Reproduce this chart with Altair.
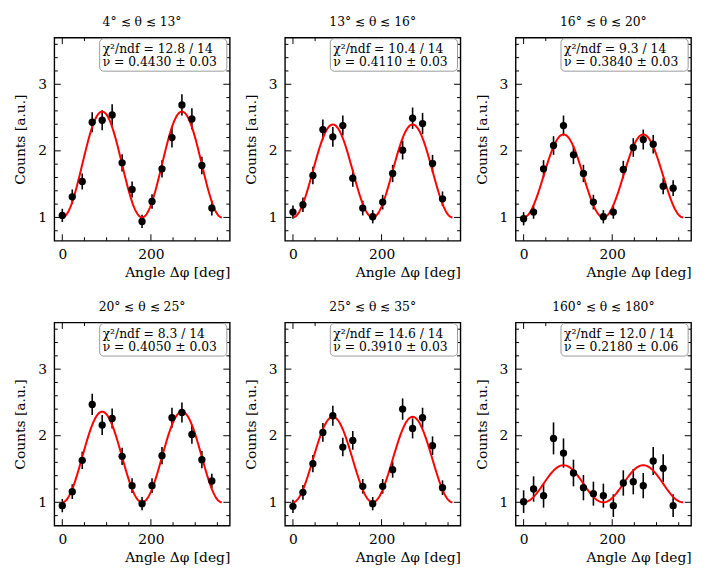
import altair as alt
import pandas as pd

phi = [0, 22.5, 45, 67.5, 90, 112.5, 135, 157.5, 180, 202.5, 225, 247.5, 270, 292.5, 315, 337.5]

titles = ["4° ≲ θ ≲ 13°", "13° ≲ θ ≲ 16°", "16° ≲ θ ≲ 20°",
          "20° ≲ θ ≲ 25°", "25° ≲ θ ≲ 35°", "160° ≲ θ ≲ 180°"]
chi2 = ["12.8", "10.4", "9.3", "8.3", "14.6", "12.0"]
ndf = ["14", "14", "14", "14", "14", "14"]
nu = [0.4430, 0.4110, 0.3840, 0.4050, 0.3910, 0.2180]
nu_err = ["0.03", "0.03", "0.03", "0.03", "0.03", "0.06"]

counts = [
    [1.03, 1.31, 1.54, 2.43, 2.46, 2.54, 1.82, 1.42, 0.94, 1.24, 1.73, 2.20, 2.69, 2.48, 1.78, 1.14],
    [1.08, 1.19, 1.63, 2.32, 2.21, 2.38, 1.59, 1.14, 1.01, 1.23, 1.66, 2.01, 2.49, 2.41, 1.81, 1.28],
    [0.98, 1.08, 1.73, 2.08, 2.38, 1.94, 1.66, 1.23, 1.01, 1.08, 1.72, 2.05, 2.17, 2.10, 1.47, 1.44],
    [0.95, 1.16, 1.63, 2.47, 2.16, 2.26, 1.69, 1.25, 0.98, 1.25, 1.70, 2.27, 2.35, 2.02, 1.64, 1.32],
    [0.94, 1.15, 1.58, 2.05, 2.30, 1.83, 1.93, 1.24, 0.98, 1.24, 1.49, 2.40, 2.11, 2.27, 1.85, 1.22],
    [1.01, 1.20, 1.10, 1.96, 1.74, 1.44, 1.22, 1.13, 1.10, 0.95, 1.29, 1.31, 1.25, 1.62, 1.51, 0.95],
]
errors = [
    [0.10, 0.11, 0.12, 0.15, 0.15, 0.16, 0.13, 0.12, 0.10, 0.11, 0.13, 0.15, 0.16, 0.16, 0.13, 0.11],
    [0.10, 0.11, 0.13, 0.15, 0.15, 0.15, 0.13, 0.11, 0.10, 0.11, 0.13, 0.14, 0.16, 0.16, 0.13, 0.11],
    [0.10, 0.10, 0.13, 0.14, 0.15, 0.14, 0.13, 0.11, 0.10, 0.10, 0.13, 0.14, 0.15, 0.14, 0.12, 0.12],
    [0.10, 0.11, 0.13, 0.16, 0.15, 0.15, 0.13, 0.11, 0.10, 0.11, 0.13, 0.15, 0.15, 0.14, 0.13, 0.11],
    [0.10, 0.11, 0.13, 0.14, 0.15, 0.14, 0.14, 0.11, 0.10, 0.11, 0.12, 0.16, 0.15, 0.15, 0.14, 0.11],
    [0.17, 0.19, 0.18, 0.24, 0.22, 0.20, 0.19, 0.18, 0.18, 0.17, 0.19, 0.19, 0.19, 0.21, 0.21, 0.17],
]

x_major = [0, 200]
x_minor = [50, 100, 150, 250, 300, 350]
y_major = [1, 2, 3]
y_minor = [0.8, 1.2, 1.4, 1.6, 1.8, 2.2, 2.4, 2.6, 2.8, 3.2, 3.4, 3.6]

W, H = 178, 206
FONT = "DejaVu Serif"
XDOM = [-18, 378]
YDOM = [0.65, 3.7]

xs = alt.Scale(domain=XDOM, nice=False, zero=False)
ys = alt.Scale(domain=YDOM, nice=False, zero=False)


def panel(i):
    df = pd.DataFrame({"phi": phi, "c": counts[i], "e": errors[i]})
    df["lo"] = df["c"] - df["e"]
    df["hi"] = df["c"] + df["e"]

    xaxis = alt.Axis(values=x_major, format="d", ticks=False, domain=False, grid=False,
                     labelPadding=7, labelFontSize=14, labelFont=FONT, labelColor="black",
                     title="Angle Δφ [deg]", titleAnchor="end", titleFont=FONT,
                     titleFontSize=14, titleFontWeight="normal", titlePadding=4, titleColor="black")
    yaxis = alt.Axis(values=y_major, format="d", ticks=False, domain=False, grid=False,
                     labelPadding=8, labelFontSize=14, labelFont=FONT, labelColor="black",
                     title="Counts [a.u.]", titleFont=FONT, titleFontSize=14,
                     titleFontWeight="normal", titlePadding=10, titleColor="black")

    base = alt.Chart(df)
    err = base.mark_rule(color="black", strokeWidth=1.6).encode(
        x=alt.X("phi:Q", scale=xs, axis=xaxis),
        y=alt.Y("lo:Q", scale=ys, axis=yaxis),
        y2="hi:Q",
    )
    pts = base.mark_circle(color="black", opacity=1, size=55).encode(
        x=alt.X("phi:Q", scale=xs), y=alt.Y("c:Q", scale=ys)
    )
    fit = alt.Chart(alt.sequence(0, 361, 2, as_="t")).transform_calculate(
        f=f"(1 - {nu[i]} * cos(2 * datum.t * PI / 180)) / (1 - {nu[i]})"
    ).mark_line(color="#ff0000", strokeWidth=2).encode(
        x=alt.X("t:Q", scale=xs), y=alt.Y("f:Q", scale=ys)
    )

    xmaj = pd.DataFrame({"v": x_major})
    xmin = pd.DataFrame({"v": x_minor})
    ymaj = pd.DataFrame({"v": y_major})
    ymin = pd.DataFrame({"v": y_minor})

    def xticks(d, L):
        b = alt.Chart(d).mark_rule(color="black", strokeWidth=1)
        return [
            b.encode(x=alt.X("v:Q", scale=xs), y=alt.value(H), y2=alt.value(H - L)),
            b.encode(x=alt.X("v:Q", scale=xs), y=alt.value(0), y2=alt.value(L)),
        ]

    def yticks(d, L):
        b = alt.Chart(d).mark_rule(color="black", strokeWidth=1)
        return [
            b.encode(y=alt.Y("v:Q", scale=ys), x=alt.value(0), x2=alt.value(L)),
            b.encode(y=alt.Y("v:Q", scale=ys), x=alt.value(W), x2=alt.value(W - L)),
        ]

    ticks = xticks(xmaj, 6.5) + xticks(xmin, 3.5) + yticks(ymaj, 6.5) + yticks(ymin, 3.5)

    box = alt.Chart(pd.DataFrame({"k": [0]})).mark_rect(
        fill="white", stroke="#999999", strokeWidth=1, cornerRadius=4
    ).encode(x=alt.value(46), x2=alt.value(175), y=alt.value(1), y2=alt.value(34))

    lines = pd.DataFrame({
        "txt": [f"χ²/ndf = {chi2[i]} / {ndf[i]}", f"ν = {nu[i]:.4f} ± {nu_err[i]}"],
        "py": [11.5, 25],
    })
    txt = alt.Chart(lines).mark_text(
        align="left", baseline="middle", font=FONT, fontSize=12.5, color="black"
    ).encode(x=alt.value(49), y=alt.Y("py:Q", scale=None), text="txt:N")

    return alt.layer(err, fit, pts, *ticks, box, txt).properties(
        width=W, height=H,
        title=alt.TitleParams(titles[i], font=FONT, fontSize=12.5, fontWeight="normal",
                              offset=9, color="black"),
    )


row1 = alt.hconcat(panel(0), panel(1), panel(2), spacing=12)
row2 = alt.hconcat(panel(3), panel(4), panel(5), spacing=12)
chart = alt.vconcat(row1, row2, spacing=20).configure_view(
    stroke="black", strokeWidth=1.4
).properties(padding={"left": 5, "top": 3, "right": 5, "bottom": 5})

chart.save("out.html", embed_options={"renderer": "svg", "actions": False})
